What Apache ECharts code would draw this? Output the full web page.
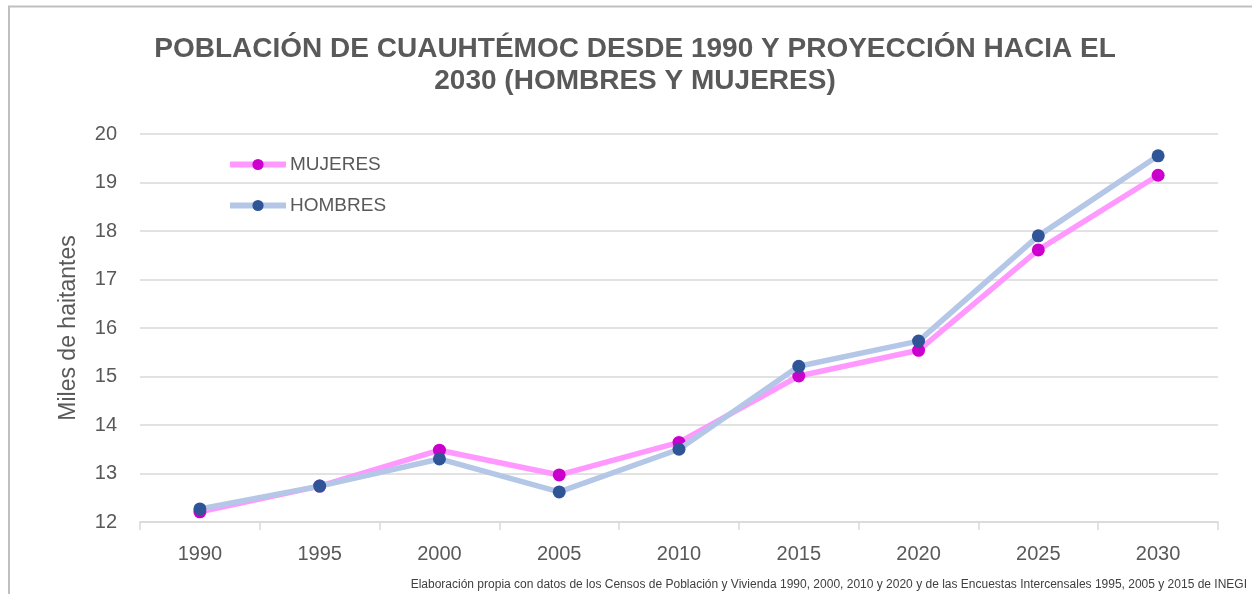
<!DOCTYPE html>
<html>
<head>
<meta charset="utf-8">
<script src="https://cdn.jsdelivr.net/npm/echarts@6/dist/echarts.min.js"></script>
<style>
  html, body { margin: 0; padding: 0; background: #fff; }
  #chart { width: 1252px; height: 594px; }
</style>
</head>
<body>
<div id="chart"></div>
<script>
const years = ["1990", "1995", "2000", "2005", "2010", "2015", "2020", "2025", "2030"];
const mujeres = [12.21, 12.74, 13.48, 12.97, 13.64, 15.01, 15.54, 17.61, 19.15];
const hombres = [12.27, 12.74, 13.3, 12.62, 13.5, 15.21, 15.73, 17.9, 19.55];
const yTicks = [12, 13, 14, 15, 16, 17, 18, 19, 20];

const textColor = "#595959";
const font = "'Liberation Sans', Arial, sans-serif";

const chart = echarts.init(document.getElementById("chart"));

chart.setOption({
  animation: false,
  textStyle: { fontFamily: font, color: textColor },
  title: {
    text: "POBLACIÓN DE CUAUHTÉMOC DESDE 1990 Y PROYECCIÓN HACIA EL\n2030 (HOMBRES Y MUJERES)",
    left: 630,
    top: 28,
    textAlign: "center",
    textStyle: {
      fontFamily: font,
      fontSize: 28,
      fontWeight: "bold",
      color: textColor,
      lineHeight: 32,
    },
  },
  legend: {
    orient: "vertical",
    left: 222,
    top: 150,
    itemGap: 22,
    itemWidth: 56,
    itemHeight: 14,
    textStyle: { fontSize: 19, color: textColor, fontFamily: font, padding: [0, 0, 0, -1] },
    data: [
      { name: "MUJERES", lineStyle: { width: 6 } },
      { name: "HOMBRES", lineStyle: { width: 6 } },
    ],
  },
  grid: { left: 140, right: 34, top: 134, bottom: 72 },
  xAxis: {
    type: "category",
    data: years,
    boundaryGap: true,
    axisLine: { lineStyle: { color: "#d9d9d9", width: 1.5 } },
    axisTick: { show: true, length: 8, lineStyle: { color: "#d9d9d9", width: 1.5 } },
    axisLabel: { fontSize: 20, color: textColor, margin: 22, fontFamily: font },
  },
  yAxis: {
    type: "value",
    min: yTicks[0],
    max: yTicks[yTicks.length - 1],
    interval: 1,
    name: "Miles de haitantes",
    nameLocation: "middle",
    nameGap: 60,
    nameTextStyle: { fontSize: 23, color: textColor, fontFamily: font },
    axisLine: { show: false },
    axisTick: { show: false },
    axisLabel: { fontSize: 20, color: textColor, margin: 23, fontFamily: font },
    splitLine: { lineStyle: { color: "#d9d9d9", width: 1.5 } },
  },
  series: [
    {
      name: "MUJERES",
      type: "line",
      data: mujeres,
      symbol: "circle",
      symbolSize: 13,
      lineStyle: { color: "#ff99ff", width: 5.5 },
      itemStyle: { color: "#cc00cc" },
      z: 2,
    },
    {
      name: "HOMBRES",
      type: "line",
      data: hombres,
      symbol: "circle",
      symbolSize: 13,
      lineStyle: { color: "#b4c7e7", width: 5.5 },
      itemStyle: { color: "#2f5597" },
      z: 3,
    },
  ],
  graphic: [
    {
      type: "rect",
      shape: { x: 9, y: 6.5, width: 1260, height: 600 },
      style: { fill: "none", stroke: "#bfbfbf", lineWidth: 2 },
      silent: true,
    },
    {
      type: "text",
      right: 5,
      top: 579,
      style: {
        text: "Elaboración propia con datos de los Censos de Población y Vivienda 1990, 2000, 2010 y 2020 y de las Encuestas Intercensales 1995, 2005 y 2015 de INEGI",
        font: "12px 'Liberation Sans Narrow', 'Liberation Sans', sans-serif",
        fill: "#404040",
      },
    },
  ],
});
</script>
</body>
</html>
